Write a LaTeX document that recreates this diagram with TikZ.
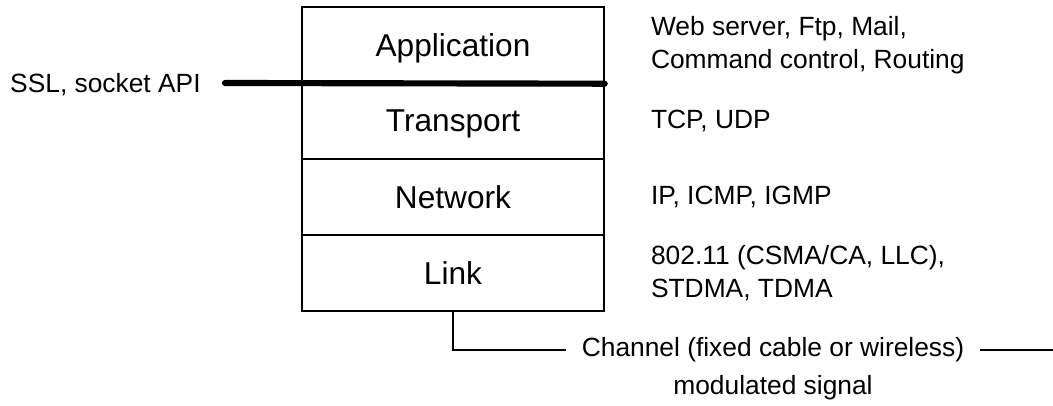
\documentclass[tikz,border=0pt]{standalone}
\usepackage{fontspec}
\setmainfont{Liberation Sans}
\usepackage{tikz}

\begin{document}
\begin{tikzpicture}[
    layer/.style={draw, line width=0.8pt, minimum width=6.04cm,
      minimum height=1.52cm, inner sep=0pt, text depth=0pt,
      font=\fontsize{18}{21}\selectfont},
    side/.style={inner sep=0pt, align=left,
      font=\fontsize{15}{19}\selectfont},
    wire/.style={line width=0.8pt}
  ]
    \useasboundingbox (0.0, 0.0) rectangle (21.06, -8.12);

    % protocol stack
    \node[layer] (app) at (9.06, -0.90) {Application};
    \node[layer] (trans) at (9.06, -2.42) {Transport};
    \node[layer] (net) at (9.06, -3.94) {Network};
    \node[layer] (link) at (9.06, -5.46) {Link};

    % socket interface
    \coordinate (api) at (4.5, -1.66);
    \node[side, anchor=base east] (ssl) at (4.02, -1.85) {SSL, socket API};
    \draw[line width=3.5pt, line cap=round] (api) -- (app.south east);

    % protocols of each layer
    \node[side, anchor=west] (appproto) at ([xshift=0.92cm]app.east)
    {Web server, Ftp, Mail,\\Command control, Routing};
    \node[side, anchor=west] (transproto) at ([xshift=0.92cm]trans.east)
    {TCP, UDP};
    \node[side, anchor=west] (netproto) at ([xshift=0.92cm]net.east)
    {IP, ICMP, IGMP};
    \node[side, anchor=west] (linkproto) at ([xshift=0.92cm]link.east)
    {802.11 (CSMA/CA, LLC),\\STDMA, TDMA};

    % channel
    \node[side, inner xsep=0.3cm] (chan) at (15.46, -7.0)
    {Channel (fixed cable or wireless)};
    \coordinate (chanend) at (21.06, -7.0);
    \draw[wire] (link.south) |- (chan.west);
    \draw[wire] (chan.east) -- (chanend);
    \node[side] (signal) at (15.46, -7.76) {modulated signal};

  \end{tikzpicture}
\end{document}
